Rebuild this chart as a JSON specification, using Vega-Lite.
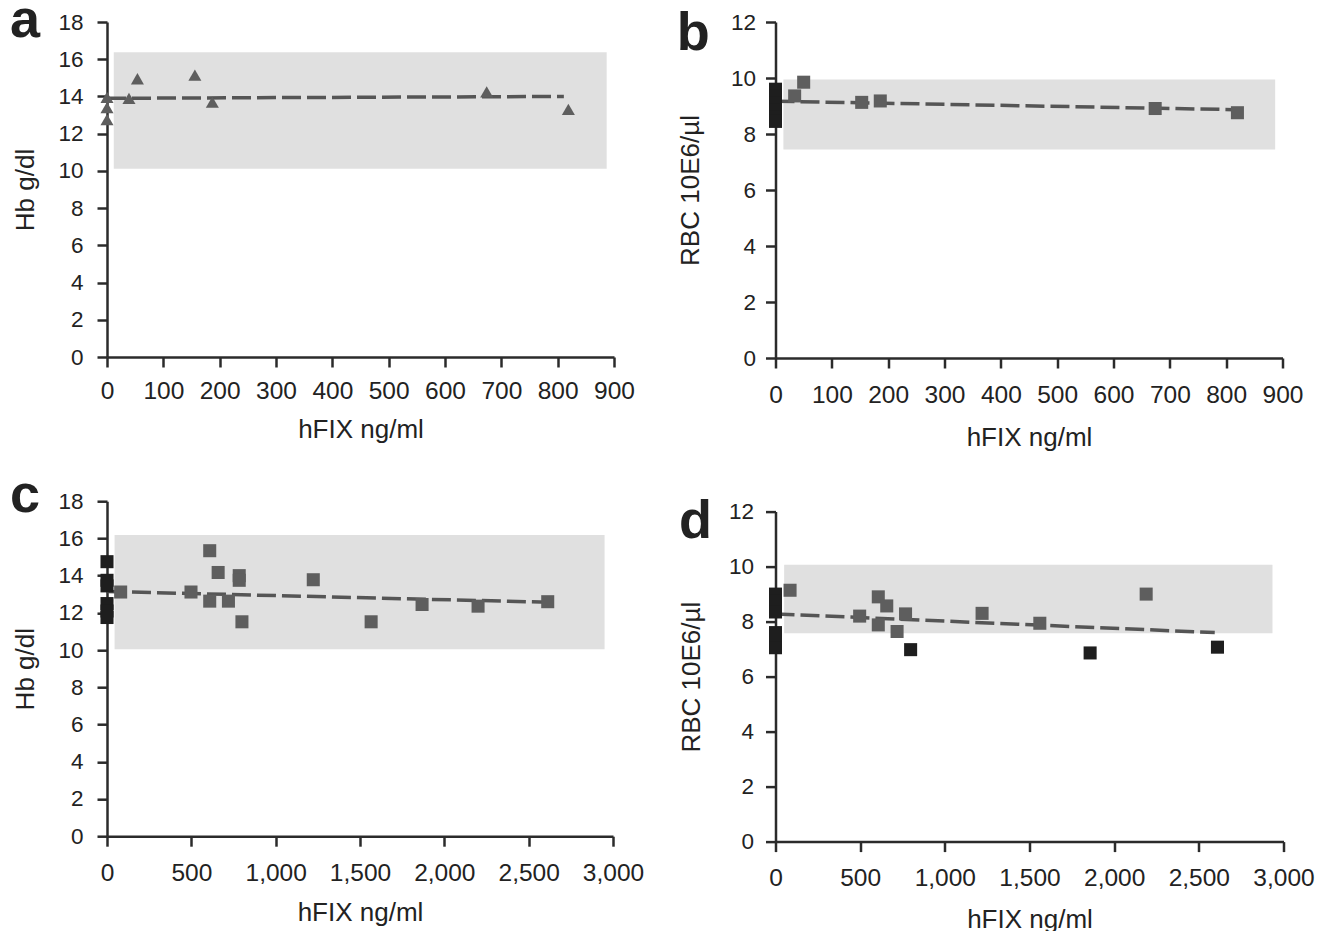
{
 "$schema": "https://vega.github.io/schema/vega-lite/v6.json",
 "padding": {"left": 10, "top": -6, "right": 0, "bottom": 0},
 "background": "white",
 "config": {
  "view": {"stroke": null},
  "font": "Liberation Sans",
  "axis": {"grid": false, "domainColor": "#2b2b2b", "domainWidth": 2.5, "tickColor": "#2b2b2b", "tickWidth": 2.5, "tickSize": 10, "labelFont": "Liberation Sans", "labelColor": "#222", "titleFont": "Liberation Sans", "titleFontSize": 26, "titleFontWeight": "normal", "titleColor": "#222", "labelOverlap": false},
  "axisX": {"labelFontSize": 24.5, "labelFlush": false},
  "axisY": {"labelFontSize": 22.5},
  "title": {"fontSize": 54, "fontWeight": "bold", "font": "Liberation Sans", "color": "#222", "anchor": "start", "frame": "group", "offset": 0, "baseline": "alphabetic"}
 },
 "datasets": {
  "a_pts": [{"x":0,"y":13.95,"k":"gray"},{"x":0,"y":13.4,"k":"gray"},{"x":0,"y":12.75,"k":"gray"},{"x":39,"y":13.9,"k":"gray"},{"x":54,"y":14.95,"k":"gray"},{"x":156,"y":15.15,"k":"gray"},{"x":187,"y":13.7,"k":"gray"},{"x":674,"y":14.25,"k":"gray"},{"x":819,"y":13.3,"k":"gray"}],
  "a_line": [{"x":0,"y":13.9},{"x":811,"y":14.0}],
  "a_band": [{"x":12,"x2":887,"y":10.12,"y2":16.38}],
  "b_pts": [{"x":0,"y":9.6,"k":"black"},{"x":0,"y":9.35,"k":"black"},{"x":0,"y":9.1,"k":"black"},{"x":0,"y":8.85,"k":"black"},{"x":0,"y":8.6,"k":"black"},{"x":0,"y":8.45,"k":"black"},{"x":34,"y":9.36,"k":"gray"},{"x":50,"y":9.85,"k":"gray"},{"x":153,"y":9.13,"k":"gray"},{"x":186,"y":9.18,"k":"gray"},{"x":674,"y":8.91,"k":"gray"},{"x":820,"y":8.76,"k":"gray"}],
  "b_line": [{"x":0,"y":9.17},{"x":815,"y":8.87}],
  "b_band": [{"x":14,"x2":887,"y":7.45,"y2":9.95}],
  "c_pts": [{"x":0,"y":14.75,"k":"black"},{"x":0,"y":13.75,"k":"black"},{"x":0,"y":13.45,"k":"black"},{"x":0,"y":12.5,"k":"black"},{"x":0,"y":12.1,"k":"black"},{"x":0,"y":11.75,"k":"black"},{"x":81,"y":13.12,"k":"gray"},{"x":498,"y":13.12,"k":"gray"},{"x":609,"y":15.34,"k":"gray"},{"x":659,"y":14.17,"k":"gray"},{"x":609,"y":12.63,"k":"gray"},{"x":720,"y":12.63,"k":"gray"},{"x":784,"y":14.0,"k":"gray"},{"x":784,"y":13.75,"k":"gray"},{"x":800,"y":11.52,"k":"gray"},{"x":1223,"y":13.78,"k":"gray"},{"x":1566,"y":11.52,"k":"gray"},{"x":1868,"y":12.45,"k":"gray"},{"x":2200,"y":12.36,"k":"gray"},{"x":2613,"y":12.6,"k":"gray"}],
  "c_line": [{"x":0,"y":13.15},{"x":2620,"y":12.57}],
  "c_band": [{"x":45,"x2":2950,"y":10.05,"y2":16.18}],
  "d_pts": [{"x":0,"y":9.0,"k":"black"},{"x":0,"y":8.75,"k":"black"},{"x":0,"y":8.5,"k":"black"},{"x":0,"y":8.35,"k":"black"},{"x":0,"y":7.6,"k":"black"},{"x":0,"y":7.3,"k":"black"},{"x":0,"y":7.05,"k":"black"},{"x":86,"y":9.14,"k":"gray"},{"x":497,"y":8.2,"k":"gray"},{"x":607,"y":8.9,"k":"gray"},{"x":657,"y":8.57,"k":"gray"},{"x":607,"y":7.88,"k":"gray"},{"x":718,"y":7.64,"k":"gray"},{"x":768,"y":8.28,"k":"gray"},{"x":1220,"y":8.3,"k":"gray"},{"x":1561,"y":7.94,"k":"gray"},{"x":2189,"y":9.0,"k":"gray"},{"x":798,"y":6.98,"k":"black"},{"x":1858,"y":6.86,"k":"black"},{"x":2610,"y":7.07,"k":"black"}],
  "d_line": [{"x":0,"y":8.28},{"x":2594,"y":7.6}],
  "d_band": [{"x":51,"x2":2935,"y":7.58,"y2":10.07}]
 },
 "spacing": 32.5,
 "hconcat": [
  {
   "spacing": 26.2,
   "vconcat": [
    {
     "width": 507, "height": 335,
     "title": {"text": "a", "dx": -97, "dy": 41},
     "encoding": {
      "x": {"field": "x", "type": "quantitative", "scale": {"domain": [0, 900], "nice": false, "zero": false}, "axis": {"title": "hFIX ng/ml", "values": [0,100,200,300,400,500,600,700,800,900], "labelPadding": 12.3, "titlePadding": 14}},
      "y": {"field": "y", "type": "quantitative", "scale": {"domain": [0, 18], "nice": false}, "axis": {"title": "Hb g/dl", "values": [0,2,4,6,8,10,12,14,16,18], "labelPadding": 14, "titlePadding": 19.5}}
     },
     "layer": [
      {"data": {"name": "a_band"}, "mark": {"type": "rect", "color": "#e0e0e0"}, "encoding": {"x2": {"field": "x2"}, "y2": {"field": "y2"}}},
      {"data": {"name": "a_line"}, "mark": {"type": "line", "color": "#555555", "strokeWidth": 3.5, "strokeDash": [19, 6]}, "encoding": {}},
      {"data": {"name": "a_pts"}, "mark": {"type": "point", "shape": "triangle-up", "filled": true, "size": 170, "opacity": 1}, "encoding": {"color": {"field": "k", "type": "nominal", "scale": {"domain": ["gray", "black"], "range": ["#5e5e5e", "#1e1e1e"]}, "legend": null}}}
     ]
    },
    {
     "width": 506, "height": 335,
     "title": {"text": "c", "dx": -97, "dy": 37},
     "encoding": {
      "x": {"field": "x", "type": "quantitative", "scale": {"domain": [0, 3000], "nice": false, "zero": false}, "axis": {"title": "hFIX ng/ml", "values": [0,500,1000,1500,2000,2500,3000], "format": ",d", "labelPadding": 14.8, "titlePadding": 14.7}},
      "y": {"field": "y", "type": "quantitative", "scale": {"domain": [0, 18], "nice": false}, "axis": {"title": "Hb g/dl", "values": [0,2,4,6,8,10,12,14,16,18], "labelPadding": 14, "titlePadding": 19.5}}
     },
     "layer": [
      {"data": {"name": "c_band"}, "mark": {"type": "rect", "color": "#e0e0e0"}, "encoding": {"x2": {"field": "x2"}, "y2": {"field": "y2"}}},
      {"data": {"name": "c_line"}, "mark": {"type": "line", "color": "#555555", "strokeWidth": 3.5, "strokeDash": [19, 6]}, "encoding": {}},
      {"data": {"name": "c_pts"}, "mark": {"type": "point", "shape": "square", "filled": true, "size": 170, "opacity": 1}, "encoding": {"color": {"field": "k", "type": "nominal", "scale": {"domain": ["gray", "black"], "range": ["#5e5e5e", "#1e1e1e"]}, "legend": null}}}
     ]
    }
   ]
  },
  {
   "spacing": 44.6,
   "vconcat": [
    {
     "width": 507, "height": 336,
     "title": {"text": [" ", "b"], "lineHeight": 13.3, "dx": -98.8, "dy": 54.3},
     "encoding": {
      "x": {"field": "x", "type": "quantitative", "scale": {"domain": [0, 900], "nice": false, "zero": false}, "axis": {"title": "hFIX ng/ml", "values": [0,100,200,300,400,500,600,700,800,900], "labelPadding": 15, "titlePadding": 17.5}},
      "y": {"field": "y", "type": "quantitative", "scale": {"domain": [0, 12], "nice": false}, "axis": {"title": "RBC 10E6/µl", "values": [0,2,4,6,8,10,12], "labelPadding": 10, "titlePadding": 27}}
     },
     "layer": [
      {"data": {"name": "b_band"}, "mark": {"type": "rect", "color": "#e0e0e0"}, "encoding": {"x2": {"field": "x2"}, "y2": {"field": "y2"}}},
      {"data": {"name": "b_line"}, "mark": {"type": "line", "color": "#555555", "strokeWidth": 3.5, "strokeDash": [19, 6]}, "encoding": {}},
      {"data": {"name": "b_pts"}, "mark": {"type": "point", "shape": "square", "filled": true, "size": 170, "opacity": 1}, "encoding": {"color": {"field": "k", "type": "nominal", "scale": {"domain": ["gray", "black"], "range": ["#5e5e5e", "#1e1e1e"]}, "legend": null}}}
     ]
    },
    {
     "width": 508, "height": 330,
     "title": {"text": "d", "dx": -96.4, "dy": 52.6},
     "encoding": {
      "x": {"field": "x", "type": "quantitative", "scale": {"domain": [0, 3000], "nice": false, "zero": false}, "axis": {"title": "hFIX ng/ml", "values": [0,500,1000,1500,2000,2500,3000], "format": ",d", "labelPadding": 14.8, "titlePadding": 16.4}},
      "y": {"field": "y", "type": "quantitative", "scale": {"domain": [0, 12], "nice": false}, "axis": {"title": "RBC 10E6/µl", "values": [0,2,4,6,8,10,12], "labelPadding": 12, "titlePadding": 24.4}}
     },
     "layer": [
      {"data": {"name": "d_band"}, "mark": {"type": "rect", "color": "#e0e0e0"}, "encoding": {"x2": {"field": "x2"}, "y2": {"field": "y2"}}},
      {"data": {"name": "d_line"}, "mark": {"type": "line", "color": "#555555", "strokeWidth": 3.5, "strokeDash": [19, 6]}, "encoding": {}},
      {"data": {"name": "d_pts"}, "mark": {"type": "point", "shape": "square", "filled": true, "size": 170, "opacity": 1}, "encoding": {"color": {"field": "k", "type": "nominal", "scale": {"domain": ["gray", "black"], "range": ["#5e5e5e", "#1e1e1e"]}, "legend": null}}}
     ]
    }
   ]
  }
 ]
}
